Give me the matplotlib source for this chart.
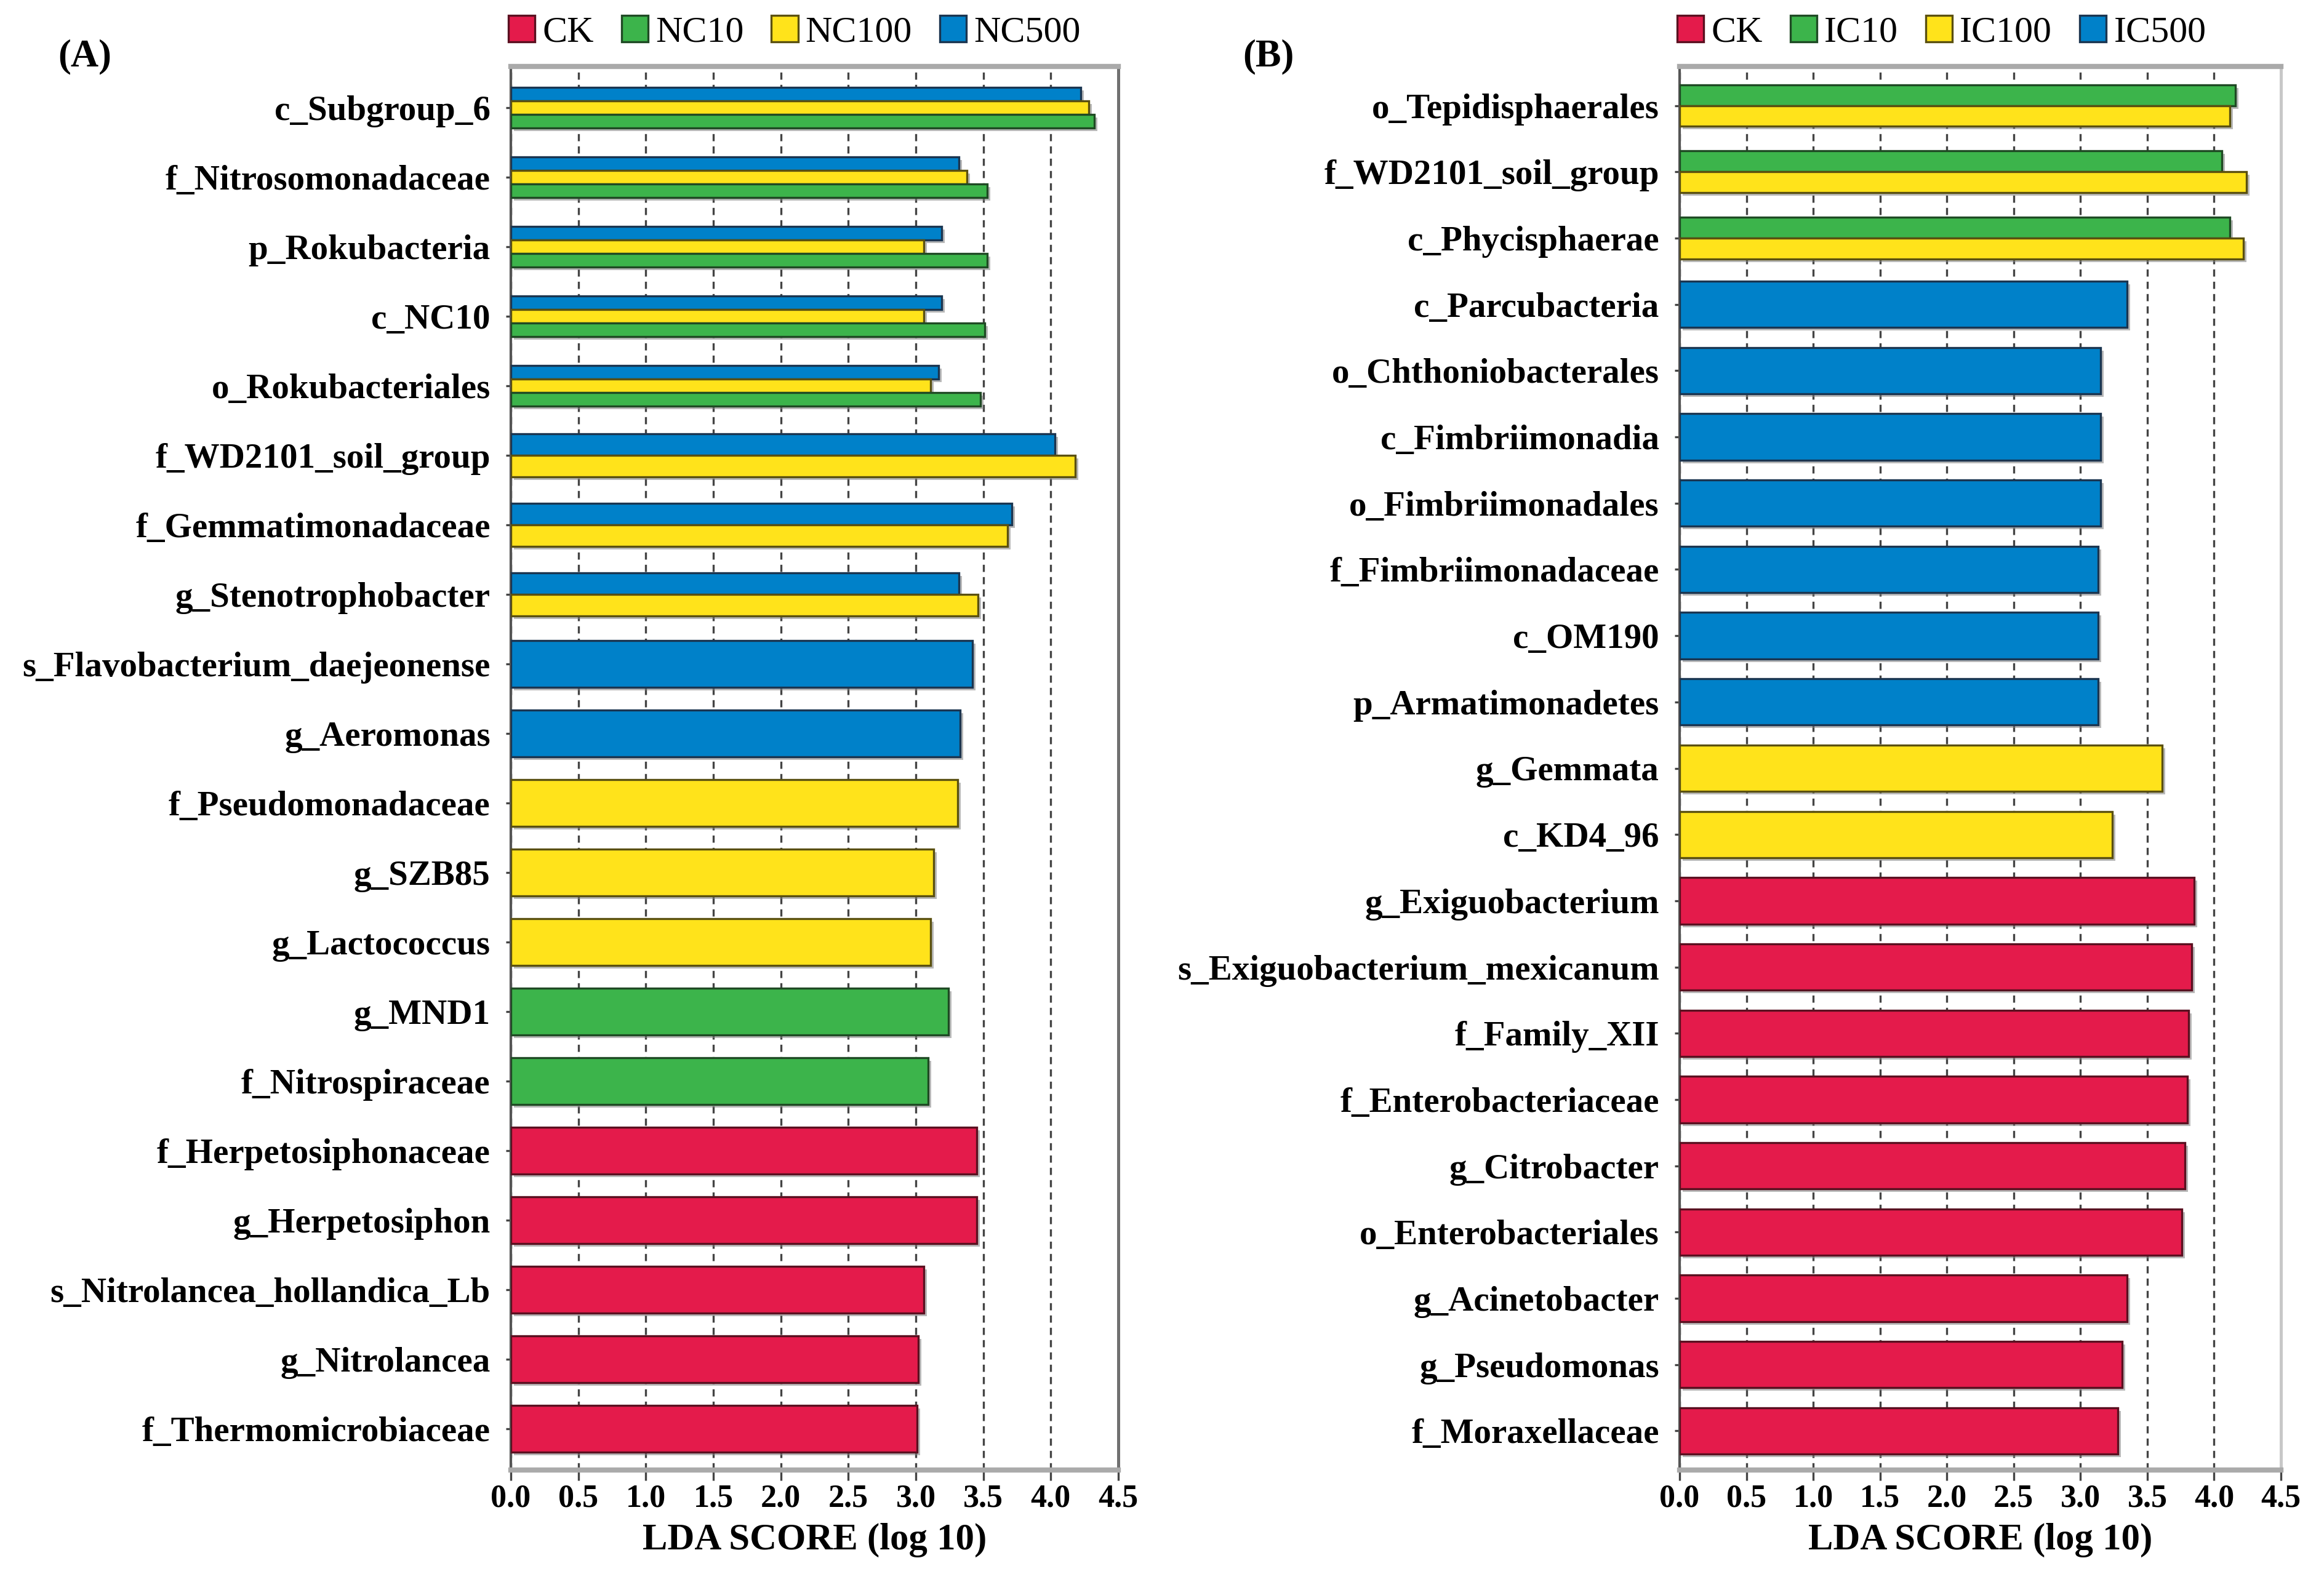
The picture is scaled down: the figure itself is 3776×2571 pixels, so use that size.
import numpy as np
import matplotlib
matplotlib.use("Agg")
import matplotlib.pyplot as plt
from matplotlib.patches import Patch
import matplotlib.patheffects as pe

nan = np.nan

# ---------------- data ----------------
A_labels = ["c_Subgroup_6", "f_Nitrosomonadaceae", "p_Rokubacteria", "c_NC10",
            "o_Rokubacteriales", "f_WD2101_soil_group", "f_Gemmatimonadaceae",
            "g_Stenotrophobacter", "s_Flavobacterium_daejeonense", "g_Aeromonas",
            "f_Pseudomonadaceae", "g_SZB85", "g_Lactococcus", "g_MND1",
            "f_Nitrospiraceae", "f_Herpetosiphonaceae", "g_Herpetosiphon",
            "s_Nitrolancea_hollandica_Lb", "g_Nitrolancea", "f_Thermomicrobiaceae"]
A_NC500 = [4.22, 3.32, 3.19, 3.19, 3.17, 4.03, 3.71, 3.32, 3.42, 3.33,
           nan, nan, nan, nan, nan, nan, nan, nan, nan, nan]
A_NC100 = [4.28, 3.38, 3.06, 3.06, 3.11, 4.18, 3.68, 3.46, nan, nan,
           3.31, 3.13, 3.11, nan, nan, nan, nan, nan, nan, nan]
A_NC10 = [4.32, 3.53, 3.53, 3.51, 3.48, nan, nan, nan, nan, nan,
          nan, nan, nan, 3.24, 3.09, nan, nan, nan, nan, nan]
A_CK = [nan, nan, nan, nan, nan, nan, nan, nan, nan, nan,
        nan, nan, nan, nan, nan, 3.45, 3.45, 3.06, 3.02, 3.01]

B_labels = ["o_Tepidisphaerales", "f_WD2101_soil_group", "c_Phycisphaerae",
            "c_Parcubacteria", "o_Chthoniobacterales", "c_Fimbriimonadia",
            "o_Fimbriimonadales", "f_Fimbriimonadaceae", "c_OM190",
            "p_Armatimonadetes", "g_Gemmata", "c_KD4_96", "g_Exiguobacterium",
            "s_Exiguobacterium_mexicanum", "f_Family_XII", "f_Enterobacteriaceae",
            "g_Citrobacter", "o_Enterobacteriales", "g_Acinetobacter",
            "g_Pseudomonas", "f_Moraxellaceae"]
B_IC10 = [4.16, 4.06, 4.12, nan, nan, nan, nan, nan, nan, nan, nan,
          nan, nan, nan, nan, nan, nan, nan, nan, nan, nan]
B_IC100 = [4.12, 4.24, 4.22, nan, nan, nan, nan, nan, nan, nan, 3.61,
           3.24, nan, nan, nan, nan, nan, nan, nan, nan, nan]
B_IC500 = [nan, nan, nan, 3.35, 3.15, 3.15, 3.15, 3.13, 3.13, 3.13, nan,
           nan, nan, nan, nan, nan, nan, nan, nan, nan, nan]
B_CK = [nan, nan, nan, nan, nan, nan, nan, nan, nan, nan, nan,
        nan, 3.85, 3.83, 3.81, 3.80, 3.78, 3.76, 3.35, 3.31, 3.28]

xticks = [0.0, 0.5, 1.0, 1.5, 2.0, 2.5, 3.0, 3.5, 4.0, 4.5]

# ---------------- style ----------------
FONT = "Liberation Serif"
plt.rcParams['font.family'] = [FONT, 'DejaVu Serif']
C_RED, C_GRN, C_YEL, C_BLU = "#E41B4B", "#3CB44B", "#FFE31B", "#0081C9"
E_RED, E_GRN, E_YEL, E_BLU = "#5a1020", "#1f4a24", "#5a5010", "#1b3550"

fig = plt.figure(figsize=(3776 / 300, 2571 / 300), dpi=300)

shadow = [pe.SimplePatchShadow(offset=(1.2, -1.2), shadow_rgbFace="#808080", alpha=0.55),
          pe.Normal()]


def draw_panel(rect, labels, series, legend_names, panel_tag, tag_x, heights,
               right_spine_color):
    ax = fig.add_axes(rect)
    n = len(labels)
    for i in range(n):
        present = [(v[i], fc, ec) for (v, fc, ec) in series if not np.isnan(v[i])]
        k = len(present)
        total = heights[k]
        h = total / k
        top = i - total / 2
        for j, (val, fc, ec) in enumerate(present):
            yc = top + h * (j + 0.5)
            b = ax.barh(yc, val, height=h, color=fc, edgecolor=ec,
                        linewidth=0.8, zorder=3)
            for p in b:
                p.set_path_effects(shadow)
    ax.set_ylim(n - 1 + 0.59, -0.59)
    ax.set_xlim(0, 4.5)
    ax.set_xticks(xticks)
    ax.set_xticklabels([f"{t:.1f}" for t in xticks], fontsize=12.5,
                       fontweight="bold", family=FONT)
    ax.set_yticks(range(n))
    ax.set_yticklabels(labels, fontsize=13.7, fontweight="bold", family=FONT)
    ax.tick_params(axis="y", length=2.0, width=0.8, pad=6, color="#444444")
    ax.tick_params(axis="x", length=4, width=0.8, pad=1.5, color="#444444",
                   direction="out")
    ax.set_axisbelow(True)
    ax.grid(axis="x", linestyle=(0, (3.5, 2.5)), color="#444444", linewidth=0.8,
            zorder=0)
    ax.set_xlabel("LDA SCORE (log 10)", fontsize=14.6, fontweight="bold",
                  family=FONT, labelpad=3.5)
    ax.spines["left"].set_color("#555555")
    ax.spines["left"].set_linewidth(1.0)
    ax.spines["bottom"].set_color("#aaaaaa")
    ax.spines["bottom"].set_linewidth(2.0)
    ax.spines["top"].set_color("#aaaaaa")
    ax.spines["top"].set_linewidth(2.0)
    ax.spines["right"].set_color(right_spine_color)
    ax.spines["right"].set_linewidth(1.2)

    handles = [Patch(facecolor=fc, edgecolor=ec, linewidth=0.8)
               for (fc, ec) in legend_names[1]]
    fig.legend(handles, legend_names[0], loc="center left",
               bbox_to_anchor=(rect[0] - 0.001, 1 - 53 / 2571), ncol=4,
               frameon=False, prop={"family": FONT, "size": 14.4},
               handlelength=0.72, handleheight=0.72, handletextpad=0.2,
               columnspacing=0.75, borderpad=0, borderaxespad=0)
    fig.text(tag_x, 1 - 92 / 2571, panel_tag, fontsize=15, fontweight="bold",
             family=FONT, ha="left", va="center")
    return ax


# Panel A
seriesA = [(A_NC500, C_BLU, E_BLU), (A_NC100, C_YEL, E_YEL),
           (A_NC10, C_GRN, E_GRN), (A_CK, C_RED, E_RED)]
legA = (["CK", "NC10", "NC100", "NC500"],
        [(C_RED, E_RED), (C_GRN, E_GRN), (C_YEL, E_YEL), (C_BLU, E_BLU)])
draw_panel([830 / 3776, 1 - 2389 / 2571, 987 / 3776, 2281 / 2571],
           A_labels, seriesA, legA, "(A)", 94 / 3776,
           {1: 0.67, 2: 0.62, 3: 0.585}, "#707070")

# Panel B
seriesB = [(B_IC10, C_GRN, E_GRN), (B_IC100, C_YEL, E_YEL),
           (B_IC500, C_BLU, E_BLU), (B_CK, C_RED, E_RED)]
legB = (["CK", "IC10", "IC100", "IC500"],
        [(C_RED, E_RED), (C_GRN, E_GRN), (C_YEL, E_YEL), (C_BLU, E_BLU)])
draw_panel([2729 / 3776, 1 - 2389 / 2571, 977 / 3776, 2281 / 2571],
           B_labels, seriesB, legB, "(B)", 2019 / 3776,
           {1: 0.70, 2: 0.63, 3: 0.6}, "#c8c8c8")

fig.savefig("out.png", dpi=300)
